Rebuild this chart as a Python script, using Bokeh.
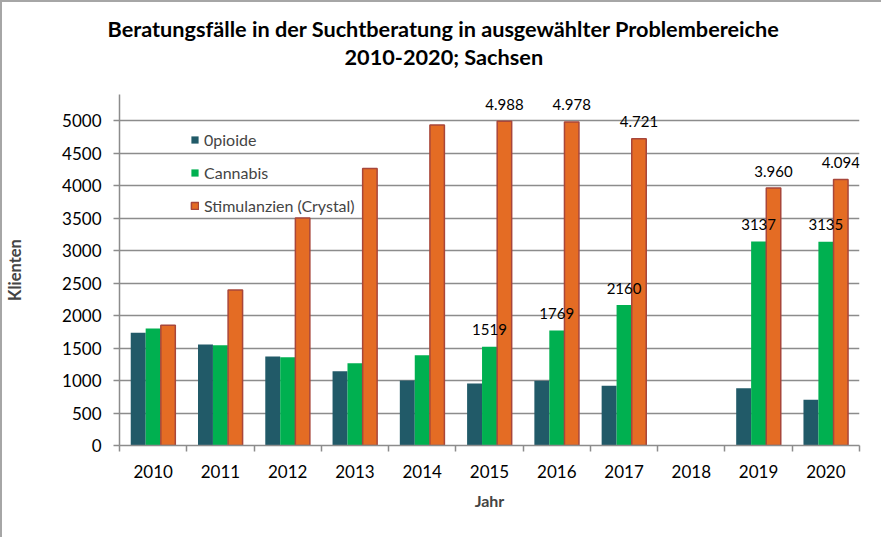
from bokeh.plotting import figure
from bokeh.models import FixedTicker, Range1d, Title, LabelSet, ColumnDataSource
from bokeh.transform import dodge
from bokeh.core.properties import value
from bokeh.embed import file_html
from bokeh.resources import INLINE

nan = float("nan")
years = [2010, 2011, 2012, 2013, 2014, 2015, 2016, 2017, 2018, 2019, 2020]
opioide = [1733, 1553, 1369, 1143, 1000, 954, 995, 918, nan, 882, 703]
cannabis = [1800, 1543, 1358, 1266, 1389, 1519, 1769, 2160, nan, 3137, 3135]
stimulanzien = [1851, 2394, 3500, 4260, 4932, 4988, 4978, 4721, nan, 3960, 4094]
y_ticks = [0, 500, 1000, 1500, 2000, 2500, 3000, 3500, 4000, 4500, 5000]

label_years_cannabis = [2015, 2016, 2017, 2019, 2020]
label_cannabis_vals = [1519, 1769, 2160, 3137, 3135]
label_cannabis_text = ["1519", "1769", "2160", "3137", "3135"]
label_years_stim = [2015, 2016, 2017, 2019, 2020]
label_stim_vals = [4988, 4978, 4721, 3960, 4094]
label_stim_text = ["4.988", "4.978", "4.721", "3.960", "4.094"]

series_names = ["0pioide", "Cannabis", "Stimulanzien (Crystal)"]
title_line1 = "Beratungsfälle in der Suchtberatung in ausgewählter Problembereiche"
title_line2 = "2010-2020; Sachsen"

C_OP = "#215A68"
C_CA = "#00B050"
C_ST = "#E46C24"
C_ST_LINE = "#A8463A"
GRID = "#8C8C8C"
FONT = "Lato"

src = ColumnDataSource(dict(year=years, op=opioide, ca=cannabis, st=stimulanzien))

p = figure(width=881, height=537, x_range=Range1d(2009.5, 2020.5), y_range=Range1d(0, 5400),
           output_backend="svg", toolbar_location=None,
           min_border_left=115, min_border_right=24, min_border_top=92, min_border_bottom=94)
p.styles = {"border-top": "2px solid #A6A6A6", "border-left": "2px solid #A6A6A6"}
p.outline_line_color = None
p.background_fill_color = "white"
p.border_fill_color = "white"

BW = 0.222
p.vbar(x=dodge("year", -BW, range=p.x_range), top="op", width=BW, source=src,
       fill_color=C_OP, line_color=None, legend_label=series_names[0])
p.vbar(x=dodge("year", 0, range=p.x_range), top="ca", width=BW, source=src,
       fill_color=C_CA, line_color=None, legend_label=series_names[1])
p.vbar(x=dodge("year", BW, range=p.x_range), top="st", width=BW * 0.97, source=src,
       fill_color=C_ST, line_color=C_ST_LINE, line_width=1.5, legend_label=series_names[2])

lsrc_c = ColumnDataSource(dict(x=label_years_cannabis, y=label_cannabis_vals, t=label_cannabis_text))
lsrc_s = ColumnDataSource(dict(x=label_years_stim, y=label_stim_vals, t=label_stim_text))
p.add_layout(LabelSet(x="x", y="y", text="t", source=lsrc_c, x_offset=0, y_offset=17,
                      text_align="center", text_baseline="middle", text_font=value(FONT),
                      text_font_size=value("15px"), text_color="black"))
p.add_layout(LabelSet(x=dodge("x", BW, range=p.x_range), y="y", text="t", source=lsrc_s, y_offset=17,
                      text_align="center", text_baseline="middle", text_font=value(FONT),
                      text_font_size=value("15px"), text_color="black"))

# axes
boundaries = [y - 0.5 for y in years] + [years[-1] + 0.5]
p.xaxis.ticker = FixedTicker(ticks=years, minor_ticks=boundaries)
p.xaxis.major_tick_line_color = None
p.xaxis.minor_tick_out = 6
p.xaxis.minor_tick_in = 0
p.xaxis.minor_tick_line_color = GRID
p.xaxis.minor_tick_line_width = 1.5
p.xaxis.axis_line_color = GRID
p.xaxis.axis_line_width = 1.5
p.xaxis.major_label_standoff = 13
p.xaxis.major_label_text_font = FONT
p.xaxis.major_label_text_font_size = "17px"
p.xaxis.major_label_text_color = "black"
p.xaxis.axis_label = "Jahr"
p.xaxis.axis_label_text_font = FONT
p.xaxis.axis_label_text_font_style = "bold"
p.xaxis.axis_label_text_font_size = "16px"
p.xaxis.axis_label_standoff = 10

p.yaxis.ticker = FixedTicker(ticks=y_ticks)
p.yaxis.minor_tick_line_color = None
p.yaxis.major_tick_out = 6
p.yaxis.major_tick_in = 0
p.yaxis.major_tick_line_color = GRID
p.yaxis.major_tick_line_width = 1.5
p.yaxis.axis_line_color = GRID
p.yaxis.axis_line_width = 1.5
p.yaxis.major_label_standoff = 12
p.yaxis.major_label_text_font = FONT
p.yaxis.major_label_text_font_size = "17px"
p.yaxis.major_label_text_color = "black"
p.yaxis.axis_label = "Klienten"
p.yaxis.axis_label_text_font = FONT
p.yaxis.axis_label_text_font_style = "bold"
p.yaxis.axis_label_text_font_size = "16.5px"
p.yaxis.axis_label_standoff = 34

p.xgrid.grid_line_color = None
p.ygrid.grid_line_color = GRID
p.ygrid.grid_line_width = 1.5

# two-line chart title: an invisible spacer next to the frame, then line 2, then line 1
spacer = Title(text="x", text_color="white", text_font_size="10px", standoff=12)
t2 = Title(text=title_line2, align="left", offset=225, text_font=FONT, text_color="black",
           text_font_style="bold", text_font_size="21.7px", standoff=0)
t1 = Title(text=title_line1, align="left", offset=-12, text_font=FONT, text_color="black",
           text_font_style="bold", text_font_size="21.7px", standoff=0)
p.add_layout(spacer, "above")
p.add_layout(t2, "above")
p.add_layout(t1, "above")

leg = p.legend[0]
leg.location = (71, 230)
leg.border_line_color = None
leg.background_fill_alpha = 0
leg.glyph_width = 9
leg.glyph_height = 9
leg.label_height = 20
leg.spacing = 13
leg.padding = 0
leg.margin = 0
leg.label_standoff = 5
leg.label_text_font = FONT
leg.label_text_font_size = "16px"

open("out.html", "w").write(file_html(p, INLINE))
